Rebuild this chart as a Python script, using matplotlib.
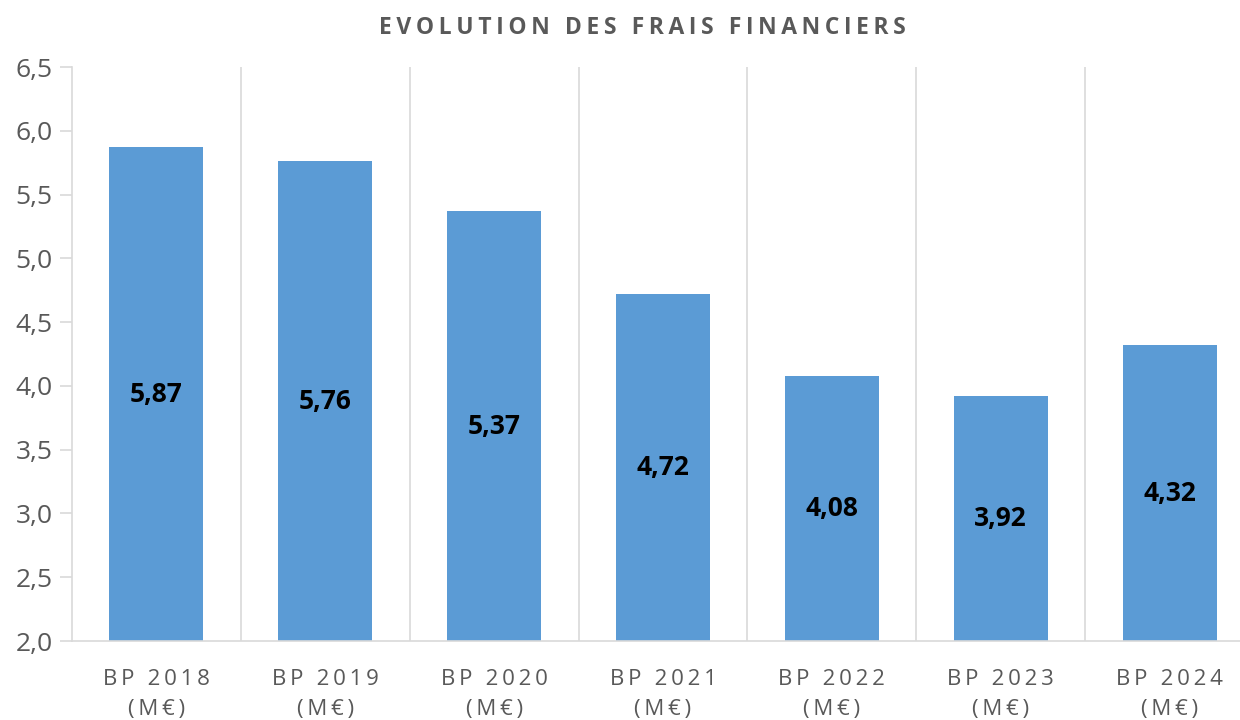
import numpy as np
import matplotlib.pyplot as plt

categories = ["BP 2018", "BP 2019", "BP 2020", "BP 2021", "BP 2022", "BP 2023", "BP 2024"]
values = [5.87, 5.76, 5.37, 4.72, 4.08, 3.92, 4.32]
unit = "(M€)"

plt.rcParams['font.family'] = ['Open Sans', 'DejaVu Sans']

fig = plt.figure(figsize=(12.4, 7.2), dpi=100)
ax = fig.add_axes([72 / 1240, 79 / 720, 1182 / 1240, 574 / 720])

x = np.arange(len(categories))
base = 2.0
ax.bar(x, np.array(values) - base, bottom=base, width=0.557, color='#5B9BD5', zorder=2)

for xi, v in zip(x, values):
    ax.text(xi, (base + v) / 2, f"{v:.2f}".replace('.', ','), ha='center', va='center',
            fontsize=19, fontweight='bold', color='black', zorder=3)

ax.set_xlim(-0.5, len(categories) - 0.5)
ax.set_ylim(2.0, 6.5)
yt = np.arange(2.0, 6.51, 0.5)
ax.set_yticks(yt)
ax.set_yticklabels([f"{t:.1f}".replace('.', ',') for t in yt], fontsize=19, color='#595959')

def spaced(s):
    return '\u2009'.join(list(s))

ax.set_xticks(x)
ax.set_xticklabels([spaced(c) + "\n" + spaced(unit) for c in categories],
                   fontsize=16, color='#595959', linespacing=1.6)
ax.tick_params(axis='x', length=0, pad=20)
ax.tick_params(axis='y', length=9, color='#D9D9D9', width=1.2, pad=5)

# category separators
for b in np.arange(0.5, len(categories) - 0.5, 1.0):
    ax.axvline(b, color='#D9D9D9', lw=1.2, zorder=1)

for s in ['top', 'right']:
    ax.spines[s].set_visible(False)
ax.spines['left'].set_color('#D9D9D9')
ax.spines['bottom'].set_color('#D9D9D9')
ax.spines['left'].set_linewidth(1.2)
ax.spines['bottom'].set_linewidth(1.2)

fig.text(642 / 1240, 1 - 28 / 720, spaced("EVOLUTION DES FRAIS FINANCIERS"),
         ha='center', va='center', fontsize=16.5, fontweight='bold', color='#595959')

fig.savefig('out.png', dpi=100)
